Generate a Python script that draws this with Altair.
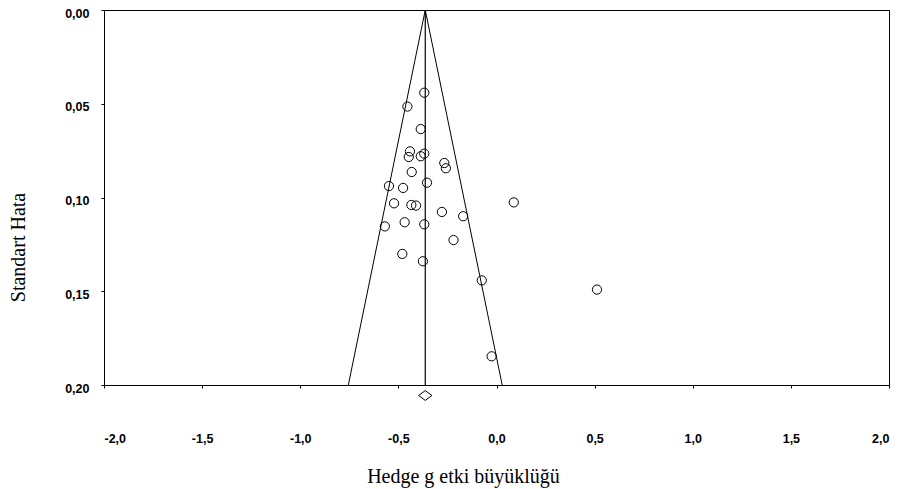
import altair as alt
import pandas as pd

# Study effect sizes (Hedges g) and standard errors
effect = [-0.368, -0.454, -0.386, -0.441, -0.447, -0.386, -0.368, -0.266, -0.258,
          -0.432, -0.354, -0.548, -0.476, 0.088, -0.522, -0.434, -0.410, -0.278,
          -0.170, -0.569, -0.468, -0.368, -0.219, -0.480, -0.375, -0.075, 0.512,
          -0.025]
std_err = [0.0441, 0.0515, 0.0635, 0.0754, 0.0784, 0.0780, 0.0766, 0.0816, 0.0844,
           0.0864, 0.0921, 0.0939, 0.0949, 0.1026, 0.1031, 0.1040, 0.1043, 0.1077,
           0.1100, 0.1154, 0.1132, 0.1143, 0.1227, 0.1301, 0.1340, 0.1442, 0.1491,
           0.1847]

mean_effect = -0.363
se_max = 0.20
diamond_se = 0.2056

x_ticks = [-2.0, -1.5, -1.0, -0.5, 0.0, 0.5, 1.0, 1.5, 2.0]
y_ticks = [0.0, 0.05, 0.10, 0.15, 0.20]

points = pd.DataFrame({"g": effect, "se": std_err})
funnel = pd.DataFrame({
    "g": [mean_effect - 1.96 * se_max, mean_effect, mean_effect + 1.96 * se_max],
    "se": [se_max, 0.0, se_max],
    "o": [0, 1, 2],
})
center = pd.DataFrame({"g": [mean_effect], "se": [0.0], "se2": [se_max]})
diamond = pd.DataFrame({"g": [mean_effect], "se": [diamond_se]})

xscale = alt.Scale(domain=[-2, 2], nice=False, zero=False)
yscale = alt.Scale(domain=[0, 0.2], reverse=True, nice=False, zero=False)

LABEL_FONT = "Arial, Liberation Sans, sans-serif"

xaxis = alt.Axis(
    values=x_ticks,
    labelExpr="(datum.value < 0 ? '-' : '') + replace(format(abs(datum.value), '.1f'), '.', ',')",
    title="Hedge g etki büyüklüğü",
    titleFont="Liberation Serif", titleFontSize=20, titleFontWeight="normal",
    titleX=359, titleY=97, titleAlign="center", titleBaseline="alphabetic",
    labelFont=LABEL_FONT, labelFontSize=12.5, labelFontWeight=700,
    labelPadding=44, labelBaseline="top", tickSize=3, grid=False,
    domainColor="black", tickColor="black", labelColor="black", titleColor="black",
)
yaxis = alt.Axis(
    values=y_ticks,
    labelExpr="replace(format(datum.value, '.2f'), '.', ',')",
    title="Standart Hata",
    titleFont="Liberation Serif", titleFontSize=20, titleFontWeight="normal",
    titleX=-80, titleY=237, titleAlign="center", titleBaseline="alphabetic",
    titleAngle=270,
    labelFont=LABEL_FONT, labelFontSize=12.5, labelFontWeight=700,
    labelPadding=12, labelOffset=3, labelBaseline="middle", tickSize=3, grid=False,
    domainColor="black", tickColor="black", labelColor="black", titleColor="black",
)

funnel_line = alt.Chart(funnel).mark_line(color="black", strokeWidth=1).encode(
    x=alt.X("g:Q", scale=xscale, axis=xaxis),
    y=alt.Y("se:Q", scale=yscale, axis=yaxis),
    order="o:Q",
)
center_rule = alt.Chart(center).mark_rule(color="black", strokeWidth=1.2).encode(
    x=alt.X("g:Q", scale=xscale),
    y=alt.Y("se:Q", scale=yscale),
    y2="se2:Q",
)
pts = alt.Chart(points).mark_point(
    shape="circle", filled=False, color="black", size=85, strokeWidth=1, opacity=1
).encode(
    x=alt.X("g:Q", scale=xscale),
    y=alt.Y("se:Q", scale=yscale),
)
dia = alt.Chart(diamond).mark_point(
    shape="M-1,0L0,-0.73L1,0L0,0.73Z", filled=False, color="black", size=180,
    strokeWidth=1, opacity=1
).encode(
    x=alt.X("g:Q", scale=xscale),
    y=alt.Y("se:Q", scale=yscale),
)

chart = alt.layer(funnel_line, center_rule, pts, dia).properties(
    width=785, height=375,
    autosize=alt.AutoSizeParams(type="none"),
    padding={"left": 96, "top": 2, "right": 4, "bottom": 110},
    background="white",
).configure_view(stroke="black", strokeWidth=1)

chart.save("out.html", embed_options={"renderer": "svg", "actions": False})
